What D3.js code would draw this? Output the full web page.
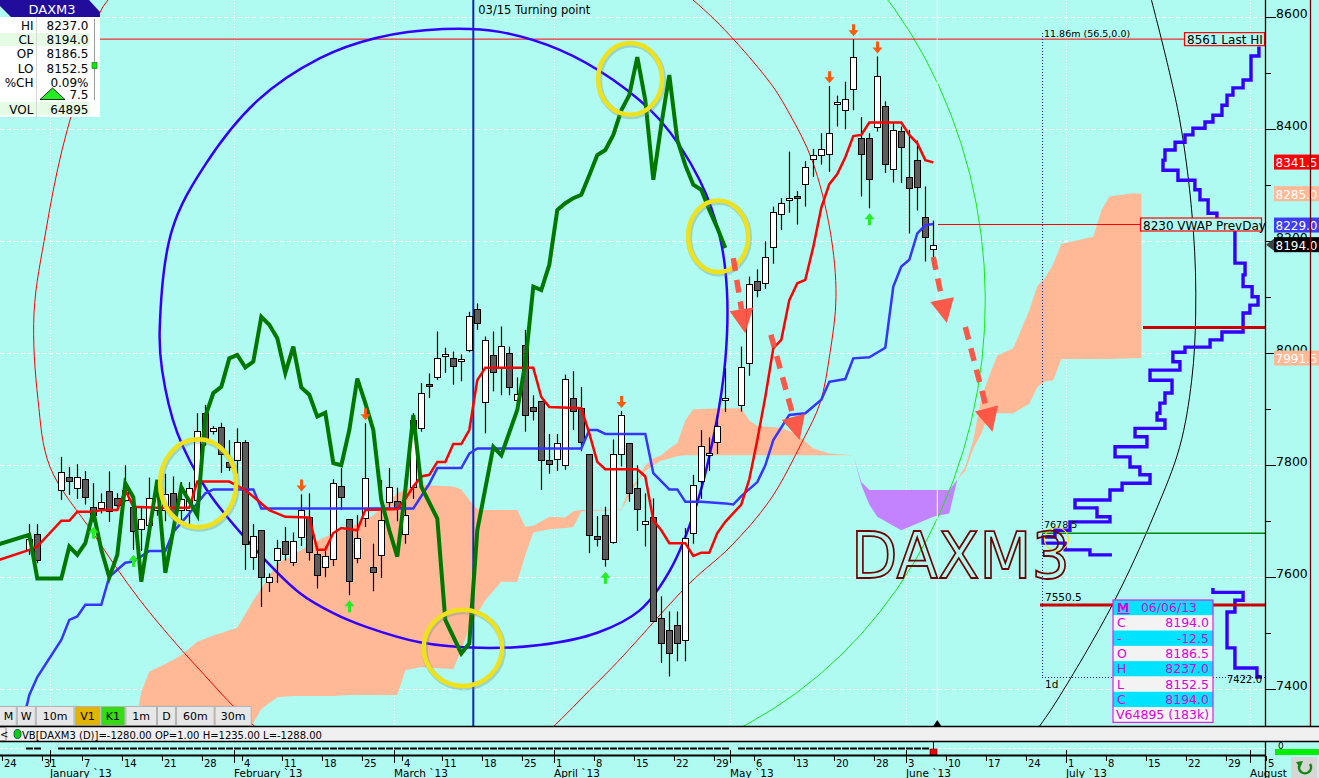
<!DOCTYPE html>
<html><head><meta charset="utf-8"><title>DAXM3</title>
<script src="https://cdn.jsdelivr.net/npm/d3@7/dist/d3.min.js"></script>
<style>html,body{margin:0;padding:0;background:#affbf1;overflow:hidden}svg{display:block}text{font-family:"DejaVu Sans",sans-serif}</style>
</head><body>
<svg id="chart" width="1319" height="778"></svg>
<script>
// ================= DATA =================
// trading-day slot index (0 = Mon 24 Dec 2012), OHLC per day
const candleSlot=[3,4,7,8,9,10,11,12,13,14,15,16,17,18,19,20,21,22,23,24,25,26,27,28,29,30,31,32,33,34,35,36,37,38,39,40,41,42,43,44,45,46,47,48,49,50,51,52,53,54,55,56,57,58,59,60,61,62,63,64,65,66,67,68,69,70,71,72,73,74,75,76,77,78,79,80,81,82,83,84,85,86,87,88,89,90,92,93,94,95,96,97,98,99,100,101,102,103,104,105,106,107,108,109,110,111,112,113,114,115,116];
const candleOpen=[7649,7677,7756,7779,7759,7775,7725,7725,7754,7741,
7738,7726,7686,7693,7720,7720,7751,7720,7720,7738,
7893,7860,7868,7806,7808,7841,7637,7684,7591,7631,
7664,7627,7672,7707,7641,7619,7632,7763,7704,7634,
7707,7618,7639,7734,7736,7677,7762,7866,7946,7957,
7995,7991,7988,8007,8079,7914,7997,7976,8000,7917,
8014,7904,7915,7809,7811,7802,7921,7902,7820,7673,
7712,7664,7820,7839,7759,7695,7707,7527,7505,7515,
7488,7680,7771,7818,7843,7918,7909,7982,8130,8125,
8190,8248,8275,8281,8302,8348,8354,8355,8447,8436,
8471,8384,8384,8404,8442,8329,8397,8315,8346,8243,8186.5];
const candleHigh=[7695,7695,7815,7797,7802,7790,7768,7750,7789,7750,
7800,7744,7727,7778,7770,7785,7780,7770,7770,7893,
7908,7870,7876,7845,7866,7845,7695,7684,7607,7667,
7690,7680,7748,7750,7655,7655,7775,7795,7704,7711,
7875,7660,7774,7795,7760,7774,7893,7947,7964,8039,
8010,8003,7998,8074,8089,8030,8039,8048,8012,7957,
8042,7925,7915,7856,7856,7962,7968,7940,7820,7709,
7726,7846,7897,7839,7800,7750,7741,7566,7539,7539,
7688,7783,7863,7850,7890,7973,8012,8137,8150,8200,
8262,8277,8360,8290,8343,8365,8393,8477,8460,8485,
8561,8422,8393,8530,8450,8413,8405,8399,8380,8298,8237];
const candleLow=[7640,7625,7738,7747,7740,7730,7699,7714,7699,7720,
7735,7649,7647,7670,7710,7700,7688,7700,7690,7730,
7835,7855,7786,7790,7785,7613,7613,7547,7574,7590,
7630,7620,7656,7630,7580,7600,7620,7720,7568,7625,
7690,7575,7599,7720,7700,7660,7740,7860,7920,7952,
7965,7944,7950,8002,8042,7857,7932,7925,7925,7905,
7860,7880,7756,7785,7790,7792,7863,7825,7643,7655,
7619,7660,7798,7735,7683,7655,7521,7447,7423,7450,
7450,7660,7740,7790,7820,7895,7896,7960,8100,8115,
8160,8220,8251,8230,8262,8315,8337,8324,8405,8400,
8434,8280,8259,8396,8322,8305,8304,8214,8255,8164,8152.5];
const candleClose=[7668,7630,7788,7771,7779,7743,7711,7735,7718,7729,
7756,7683,7704,7741,7753,7748,7714,7740,7760,7862,
7848,7866,7820,7797,7841,7659,7674,7600,7600,7653,
7641,7664,7720,7644,7603,7638,7768,7744,7594,7670,
7778,7609,7702,7761,7725,7711,7881,7929,7943,7991,
7998,7976,7990,8067,8054,8024,7967,8013,7940,7927,
7889,7896,7809,7802,7839,7955,7897,7842,7676,7667,
7634,7821,7890,7750,7721,7700,7521,7483,7464,7482,
7670,7765,7834,7822,7871,7921,7976,8123,8114,8172,
8252,8268,8278,8277,8333,8355,8364,8393,8449,8455,
8529,8355,8311,8495,8339,8399,8368,8295,8297,8207,8194];

// Tenkan (red), Kijun (blue) and oscillator overlay (green): [slot, price]
const tenkan=[[-1,7630],[3,7649],[4,7655],[7,7701],[8,7701],[9,7717],[11,7717],[12,7720],[14,7720],[15,7756],[16,7726],[19,7724],[23,7724],[24,7771],[28,7771],[30,7756],[33,7720],[35,7708],[38,7707],[39,7649],[40,7649],[41,7679],[42,7688],[44,7684],[45,7720],[49,7722],[50,7740],[51,7762],[52,7780],[53,7783],[54,7806],[55,7806],[56,7838],[57,7838],[58,7863],[59,7952],[60,7974],[66,7974],[67,7922],[68,7904],[72,7902],[73,7857],[74,7806],[75,7793],[79,7793],[80,7780],[81,7702],[82,7684],[83,7661],[85,7661],[86,7638],[87,7644],[88,7644],[89,7679],[90,7699],[92,7730],[93,7775],[94,7845],[95,7922],[96,8009],[97,8024],[98,8095],[99,8125],[100,8131],[101,8190],[102,8260],[103,8302],[104,8320],[105,8350],[106,8388],[107,8390],[108,8412],[112,8412],[113,8390],[114,8375],[115,8345],[116,8341]];
const kijun=[[2,7330],[3,7390],[4,7422],[7,7488],[8,7524],[9,7530],[10,7551],[12,7551],[13,7601],[15,7626],[16,7628],[18,7647],[20,7647],[21,7681],[23,7714],[25,7750],[26,7757],[31,7757],[32,7723],[51,7723],[53,7767],[54,7795],[57,7795],[58,7821],[59,7830],[72,7830],[73,7863],[74,7863],[75,7856],[80,7856],[81,7786],[83,7757],[84,7757],[85,7735],[87,7735],[90,7732],[91,7730],[92,7745],[94,7770],[95,7800],[96,7845],[98,7890],[100,7893],[102,7917],[103,7949],[105,7954],[106,7991],[108,7993],[110,8010],[111,8119],[112,8155],[113,8167],[114,8214],[115,8229],[116,8231]];
const oscillator=[[-1,7658],[3,7676],[4,7598],[7,7598],[8,7655],[9,7640],[10,7661],[11,7717],[12,7649],[13,7600],[14,7640],[15,7768],[16,7743],[17,7592],[19,7774],[20,7608],[22,7761],[24,7711],[25,7887],[26,7929],[27,7940],[28,7991],[29,7997],[30,7975],[31,7985],[32,8065],[33,8051],[34,8027],[35,7965],[36,8012],[37,7939],[38,7926],[39,7887],[40,7894],[41,7804],[42,7800],[43,7863],[44,7955],[45,7911],[46,7863],[47,7738],[48,7684],[49,7637],[50,7756],[51,7890],[52,7762],[54,7705],[55,7524],[57,7464],[58,7482],[59,7684],[61,7833],[62,7818],[64,7899],[65,7982],[66,8119],[67,8113],[68,8158],[69,8256],[70,8268],[71,8277],[72,8283],[73,8318],[74,8354],[75,8363],[76,8390],[77,8434],[78,8461],[79,8529],[80,8452],[81,8310],[82,8408],[83,8497],[84,8381],[85,8336],[86,8301],[87,8292],[88,8256],[89,8224],[90,8188]];

// Ichimoku cloud: slot, span A, span B
const cloudSlot=[16,17,18,20,22,24,26,29,31,32,34,36,38,41,43,46,49,50,52,56,57,58,59,60,62,64,65,66,68,70,71,72,77,78,79,80,81,82,83,84,85,86,90,92,93,94,97,99,101,103,106,107,108,109,110,112,114,116,118,119,120,121,122,123,124,126,128,129,130,131,132,134,136,137,138,141,142];
const spanA=[7320,7395,7432,7445,7461,7485,7496,7510,7559,7580,7625,7640,7658,7679,7688,7711,7750,7757,7765,7762,7757,7738,7722,7720,7720,7720,7690,7692,7708,7707,7718,7720,7721,7760,7772,7800,7812,7818,7830,7840,7880,7900,7902,7902,7880,7870,7867,7855,7830,7821,7818,7765,7730,7708,7700,7684,7696,7708,7714,7774,7798,7845,7920,7960,7996,8009,8077,8120,8135,8160,8195,8202,8208,8255,8280,8286,8285];
const spanB=[7300,7300,7300,7300,7300,7300,7300,7300,7340,7365,7386,7388,7388,7388,7390,7390,7390,7434,7440,7436,7470,7510,7535,7559,7592,7592,7640,7680,7686,7688,7690,7718,7720,7745,7770,7790,7800,7808,7812,7816,7818,7818,7818,7818,7818,7818,7818,7818,7818,7818,7818,7770,7756,7756,7756,7756,7756,7756,7756,7774,7790,7830,7857,7893,7893,7893,7910,7940,7950,7952,7990,7990,7990,7990,7990,7991,7991.5];

// Volume-at-price profile (price, relative volume); null = gap
const profPrice=[8548,8531,8488,8474,8461,8443,8425,8413,8402,8390,8377,8363,8345,8327,8309,8292,8274,8250,8229,8184,8161,8140,8119,8101,8086,8072,8047,8038,8024,8011,8002,7985,7970,7952,7929,7911,7893,7881,7866,7851,7833,7815,7797,7783,7768,7756,7738,7724,7708,7699,7684,7672,7661,7649,7640,null,7581,7573,7559,7538,7479,7474,7449,7438,7422];
const profVol=[1.4,5,8.6,13.2,15.9,18.2,22.3,25.9,31.4,35,39.5,44.1,45,38.2,30.5,28.2,24.5,20.5,12.3,12.3,7.7,8.6,4.5,1.8,5.5,8.6,8.6,18.2,23.6,35,40.5,37.3,50.9,40.9,44.1,46.4,47.7,44.1,57.7,52.3,66.8,60,55.5,50.9,63.6,69.1,85,75,69.1,87.3,94.1,99.5,89.5,78.2,68.2,null,22.3,8.6,12.3,15.9,15.9,12.3,12.3,2.3,0];

// Key levels
const lastHigh=8561, vwapPrevDay=8230, pocLevel=7678.5, levelUpper=8046, levelLower=7550.5, profileLow=7422.0;
const tagValues=[8341.5,8285.0,8229.0,8194.0,7991.5];
const turningSlot=58.5, currentSlot=116.5;

// signal arrows
const downArrowSlot=[37,45,77,103,106,109];
const upArrowSlot=[11,16,43,75,108];

// Annotation shapes in (slot, price) space
const blueCircle=[[54.7,8579],[61.8,8574],[69.3,8542],[76,8488],[81.8,8417],[86.8,8309],[89.3,8209],[90.2,8113],[90,7988],[88.7,7863],[86.2,7720],[83.1,7613],[79.3,7541],[74,7501],[66.8,7479],[59.3,7474],[51.8,7484],[45.2,7511],[41,7536],[36.8,7572],[31,7654],[25.2,7756],[21.5,7858],[19.6,7970],[19.3,8042],[20.84,8220],[24.96,8336],[31.59,8452],[39.34,8527],[46.34,8563]];
const redCircle=[[3.59,8072],[4.09,7917],[5.59,7797],[10.96,7679],[16.84,7559],[23.96,7440],[32.21,7322],[40.59,7256],[51.84,7229],[63.09,7274],[74.34,7417],[85.59,7590],[90.59,7654],[95.59,7738],[99.71,7845],[101.84,7911],[103.09,8001],[103.84,8101],[103.09,8220],[100.84,8345],[98.09,8426],[95.34,8488],[85.96,8631],[74.34,8738],[55.59,8792],[36.84,8756],[21.84,8684],[12.84,8631],[9.96,8506],[7.09,8363],[5.09,8220]];
const blackArc=[[143.1,8640],[146.8,8417],[148.5,8220],[148.8,8072],[148.3,7952],[146.8,7833],[143.7,7715],[138.5,7554],[131.5,7381],[128.7,7322],[125.6,7256]];
const greenArcCenter=[70,8094], greenArcRadius=[52.5,839];
const yellowRings=[[24.1,7768,4.75,78.6],[78.1,8490,4,64],[89.1,8209,3.75,64],[57.2,7474,4.9,68],[131.4,7668,1.5,21]];
const redArrows=[[91,8170,92.5,8036],[95.7,8033,99.3,7845],[116,8172,117.7,8054],[120,8047,123.4,7860]];

// Axis ticks
const priceTicksMajor=[7400,7600,7800,8000,8200,8400,8600];
const priceTicksMinor=[7500,7700,7900,8100,8300,8500];
const weekTickSlots=[0,5,10,15,20,25,30,35,40,45,50,55,60,65,69,74,79,84,89,94,99,104,109,113,118,123,128,133,138,143,148,153,158];
const weekTickLabels=['24','31','7','14','21','28','4','11','18','25','4','11','18','25','1','8','15','22','29','6','13','20','28','3','10','17','24','1','8','15','22','29','5'];
const monthSlots=[6,29,49,69,91,113,133,156];
const monthLabels=['January `13','February `13','March `13','April `13','May `13','June `13','July `13','August `13'];

// Info panels
const infoLabels=['HI','CL','OP','LO','%CH','','VOL'];
const infoValues=['8237.0','8194.0','8186.5','8152.5','0.09%','7.5','64895'];
const boxLabels=['M','C','-','O','H','L','C',''];
const boxValues=['06/06/13','8194.0','-12.5','8186.5','8237.0','8152.5','8194.0','V64895 (183k)'];
const toolbarButtons=['M','W','10m','V1','K1','1m','D','60m','30m'];
const statusText='VB[DAXM3 (D)]=-1280.00 OP=1.00 H=1235.00 L=-1288.00';

// ================= RENDER =================
const BG='#affbf1', SALMON='#ffb996';
const W=1319,H=778, PX1=1265, PY1=726;
const x=d3.scaleLinear().domain([0,160]).range([5.3,1285.3]);
const y=d3.scaleLinear().domain([7400,8600]).range([689.3,17.3]);
const vx=d3.scaleLinear().domain([0,100]).range([1262,1042]);
const svg=d3.select('#chart');
svg.append('rect').attr('width',W).attr('height',H).attr('fill',BG);
const defs=svg.append('defs');
defs.append('clipPath').attr('id','plot').append('rect').attr('x',0).attr('y',0).attr('width',PX1).attr('height',PY1);
defs.append('filter').attr('id','soft').append('feGaussianBlur').attr('stdDeviation',0.6);
const g=svg.append('g').attr('clip-path','url(#plot)');
const rx=s=>Math.round(x(s));

// grid
g.selectAll('.hg').data(priceTicksMajor).join('line').attr('x1',0).attr('x2',PX1)
 .attr('y1',d=>Math.round(y(d))+0.5).attr('y2',d=>Math.round(y(d))+0.5)
 .attr('stroke','#fff').attr('stroke-dasharray','4,3');
g.selectAll('.vg').data(monthSlots).join('line')
 .attr('x1',d=>rx(d)-2.5).attr('x2',d=>rx(d)-2.5).attr('y1',0).attr('y2',PY1)
 .attr('stroke','#fff').attr('stroke-dasharray','1,2');

// cloud
const cloudIdx=d3.range(cloudSlot.length);
const segs=[]; let cur=[], sign=0;
cloudIdx.forEach(i=>{
  const s=Math.sign(spanA[i]-spanB[i]);
  cur.push(i);
  if(s===0 && cur.length>1){segs.push({sign,idx:cur}); cur=[i]; sign=0;}
  else if(s!==0) sign=s;
});
if(cur.length>1) segs.push({sign,idx:cur});
const area=d3.area().x(i=>x(cloudSlot[i])).y0(i=>y(spanB[i])).y1(i=>y(spanA[i]));
segs.forEach(sg=>g.append('path').attr('d',area(sg.idx)).attr('fill',sg.sign<0?'#c383ff':SALMON));

// thin circles / arcs
g.append('path').attr('d',d3.line().x(d=>x(d[0])).y(d=>y(d[1])).curve(d3.curveCatmullRomClosed)(redCircle)).attr('fill','none').attr('stroke','#ff0000').attr('stroke-width',1);
g.append('path').attr('d',d3.line().x(d=>x(d[0])).y(d=>y(d[1])).curve(d3.curveCatmullRom)(blackArc)).attr('fill','none').attr('stroke','#000').attr('stroke-width',1);
(function(){
  const cx=x(greenArcCenter[0]), cy=y(greenArcCenter[1]);
  const ax=x(greenArcCenter[0]+greenArcRadius[0])-cx, ay=y(greenArcCenter[1]-greenArcRadius[1])-cy;
  const t1=-50*Math.PI/180, t2=72*Math.PI/180;
  g.append('path').attr('d',`M${cx+ax*Math.cos(t1)},${cy+ay*Math.sin(t1)} A${ax},${ay} 0 0 1 ${cx+ax*Math.cos(t2)},${cy+ay*Math.sin(t2)}`)
   .attr('fill','none').attr('stroke','#19e619').attr('stroke-width',1);
})();

// levels
g.append('line').attr('x1',0).attr('x2',1184).attr('y1',y(lastHigh)).attr('y2',y(lastHigh)).attr('stroke','#ff0000').attr('stroke-width',1);
g.append('line').attr('x1',x(currentSlot)).attr('x2',1140).attr('y1',y(vwapPrevDay)).attr('y2',y(vwapPrevDay)).attr('stroke','#ff0000').attr('stroke-width',1);

// volume profile frame
g.append('line').attr('x1',1042.5).attr('x2',1042.5).attr('y1',33).attr('y2',y(profileLow)).attr('stroke','#2020c0').attr('stroke-dasharray','1,2');
g.append('line').attr('x1',1042).attr('x2',PX1).attr('y1',Math.round(y(profileLow))+0.5).attr('y2',Math.round(y(profileLow))+0.5).attr('stroke','#2020c0').attr('stroke-dasharray','1,2');
g.append('line').attr('x1',1042).attr('x2',PX1).attr('y1',y(pocLevel)).attr('y2',y(pocLevel)).attr('stroke','#008800').attr('stroke-width',1.5);

// profile
(function(){
  const p=d3.path(); let started=false, lx=0;
  profPrice.forEach((pr,i)=>{
    if(pr===null){started=false;return;}
    const X=vx(profVol[i]), Y=y(pr);
    if(!started){p.moveTo(X,Y);started=true;}
    else{p.lineTo(lx,Y);p.lineTo(X,Y);}
    lx=X;
  });
  g.append('path').attr('d',p.toString()).attr('fill','none').attr('stroke','#3300ff').attr('stroke-width',3.4);
})();
g.append('line').attr('x1',1143).attr('x2',PX1).attr('y1',y(levelUpper)).attr('y2',y(levelUpper)).attr('stroke','#cc0000').attr('stroke-width',3);
g.append('line').attr('x1',1040).attr('x2',PX1).attr('y1',y(levelLower)).attr('y2',y(levelLower)).attr('stroke','#cc0000').attr('stroke-width',3);

// verticals
g.append('line').attr('x1',x(currentSlot)).attr('x2',x(currentSlot)).attr('y1',0).attr('y2',PY1).attr('stroke','#fff').attr('stroke-width',1);
g.append('line').attr('x1',x(turningSlot)).attr('x2',x(turningSlot)).attr('y1',0).attr('y2',PY1).attr('stroke','#1028a8').attr('stroke-width',2);
svg.append('text').attr('x',x(turningSlot)+5).attr('y',14).attr('font-size',11.5).attr('fill','#000').text('03/15 Turning point');

// blue circle
g.append('path').attr('d',d3.line().x(d=>x(d[0])).y(d=>y(d[1])).curve(d3.curveCatmullRomClosed)(blueCircle)).attr('fill','none').attr('stroke','#3300ff').attr('stroke-width',2.5);

// candles
const candles=candleSlot.map((s,i)=>({s,o:candleOpen[i],h:candleHigh[i],l:candleLow[i],c:candleClose[i]}));
const cg=g.append('g');
cg.selectAll('line').data(candles).join('line')
 .attr('x1',d=>rx(d.s)+0.5).attr('x2',d=>rx(d.s)+0.5).attr('y1',d=>y(d.h)).attr('y2',d=>y(d.l))
 .attr('stroke','#000').attr('stroke-width',1.2);
cg.selectAll('rect').data(candles).join('rect')
 .attr('x',d=>rx(d.s)-2.5).attr('width',6)
 .attr('y',d=>Math.round(y(Math.max(d.o,d.c)))+0.5)
 .attr('height',d=>Math.max(2,Math.round(Math.abs(y(d.o)-y(d.c)))))
 .attr('fill',d=>d.c>=d.o?'#ffffff':'#5c5c5c').attr('stroke','#000').attr('stroke-width',1);

// Tenkan / Kijun
g.append('path').attr('d',d3.line().x(d=>x(d[0])).y(d=>y(d[1]))(kijun)).attr('fill','none').attr('stroke','#3535ff').attr('stroke-width',2.5);
g.append('path').attr('d',d3.line().x(d=>x(d[0])).y(d=>y(d[1]))(tenkan)).attr('fill','none').attr('stroke','#ff0000').attr('stroke-width',2.5);
// oscillator
g.append('path').attr('d',d3.line().x(d=>x(d[0])).y(d=>y(d[1]))(oscillator)).attr('fill','none').attr('stroke','#007800').attr('stroke-width',4).attr('stroke-linejoin','miter');

// signal arrows
const hiOf=s=>candleHigh[candleSlot.indexOf(s)], loOf=s=>candleLow[candleSlot.indexOf(s)];
downArrowSlot.forEach(s=>{
  const cx=rx(s)+0.5, b=y(hiOf(s))-3;
  g.append('path').attr('d',`M${cx-1.5},${b-12}h3v6h3.5l-5,6l-5,-6h3.5z`).attr('fill','#ff5a0a');
});
upArrowSlot.forEach(s=>{
  const cx=rx(s)+0.5, t=y(loOf(s))+5;
  g.append('path').attr('d',`M${cx},${t}l5,6h-3.5v6h-3v-6h-3.5z`).attr('fill','#22ee22');
});

// yellow rings
yellowRings.forEach((r,i)=>{
  const cx=x(r[0]), cy=y(r[1]), ex=x(r[0]+r[2])-cx, ey=y(r[1]-r[3])-cy;
  const sw=i<4?4.5:1.2;
  if(i<4) g.append('ellipse').attr('cx',cx+1).attr('cy',cy+1.5).attr('rx',ex).attr('ry',ey).attr('fill','none').attr('stroke','#6a8f8a').attr('stroke-opacity',0.35).attr('stroke-width',sw+1.5).attr('filter','url(#soft)');
  g.append('ellipse').attr('cx',cx).attr('cy',cy).attr('rx',ex).attr('ry',ey).attr('fill','none').attr('stroke','#efe21c').attr('stroke-width',sw);
});

// red dashed arrows
redArrows.forEach(a=>{
  const x0=x(a[0]),y0=y(a[1]),x1=x(a[2]),y1=y(a[3]);
  const L=Math.hypot(x1-x0,y1-y0), ux=(x1-x0)/L, uy=(y1-y0)/L, hl=24, hw=12;
  const bx=x1-ux*hl, by=y1-uy*hl;
  g.append('line').attr('x1',x0).attr('y1',y0).attr('x2',bx).attr('y2',by).attr('stroke','#ff5040').attr('stroke-width',5.5).attr('stroke-dasharray','13,9').attr('opacity',0.95);
  g.append('path').attr('d',`M${x1},${y1}L${bx-uy*hw},${by+ux*hw}L${bx+uy*hw},${by-ux*hw}Z`).attr('fill','#ff5040').attr('opacity',0.95);
});

// watermark
svg.append('text').attr('x',851).attr('y',578).attr('font-family','Liberation Sans, Arial, sans-serif').attr('font-size',64)
 .attr('textLength',219).attr('lengthAdjust','spacingAndGlyphs')
 .attr('fill','none').attr('stroke','#6e0000').attr('stroke-width',1.8).text('DAXM3');

// profile labels
svg.append('text').attr('x',1044).attr('y',37).attr('font-size',9.5).text('11.86m (56.5,0.0)');
svg.append('text').attr('x',1044).attr('y',y(pocLevel)-5).attr('font-size',9.5).text(pocLevel.toFixed(1));
svg.append('text').attr('x',1045).attr('y',y(levelLower)-4).attr('font-size',10.5).text(levelLower.toFixed(1));
svg.append('text').attr('x',1262).attr('y',y(profileLow)+6).attr('font-size',10).attr('text-anchor','end').text(profileLow.toFixed(1));
svg.append('text').attr('x',1045).attr('y',688).attr('font-size',10.5).text('1d');

// Last HI and VWAP boxes
function labelBox(x0,x1,cy,txt){
  svg.append('rect').attr('x',x0+0.5).attr('y',cy-6.5).attr('width',x1-x0).attr('height',13).attr('fill',BG).attr('stroke','#ff0000').attr('stroke-width',1.2);
  svg.append('text').attr('x',x0+3).attr('y',cy+5).attr('font-size',12).attr('fill','#000').text(txt);
}
labelBox(1184,1264,y(lastHigh),lastHigh+' Last HI');
labelBox(1140,1261,y(vwapPrevDay),vwapPrevDay+' VWAP PrevDay');

// data box bottom right
(function(){
  const bx=1113,by=600,rh=15.3,bw=100;
  boxValues.forEach((v,i)=>{
    svg.append('rect').attr('x',bx).attr('y',by+i*rh).attr('width',bw).attr('height',rh).attr('fill',i%2===0?'#00e3ff':'#f3f3f3');
    if(boxLabels[i]) svg.append('text').attr('x',bx+4).attr('y',by+i*rh+12).attr('font-size',12.5).attr('fill','#e000e0')
      .attr('font-weight',i===0?'bold':'normal').attr('text-decoration',i===0?'underline':'none').text(boxLabels[i]);
    svg.append('text').attr('x',i===0?bx+56:(i===7?bx+3:bx+bw-4)).attr('y',by+i*rh+12).attr('font-size',12.5).attr('fill','#e000e0')
      .attr('text-anchor',i===0?'middle':(i===7?'start':'end')).text(v);
  });
  svg.append('rect').attr('x',bx).attr('y',by).attr('width',bw).attr('height',rh*8).attr('fill','none').attr('stroke','#e020e0').attr('stroke-width',1.2);
})();

// info box top-left
(function(){
  svg.append('rect').attr('x',0).attr('y',17).attr('width',100).attr('height',100).attr('fill','#fff');
  svg.append('rect').attr('x',0).attr('y',33).attr('width',90).attr('height',13).attr('fill','#e6fbe4');
  svg.append('rect').attr('x',0).attr('y',102).attr('width',90).attr('height',13).attr('fill','#e6fbe4');
  svg.append('path').attr('d','M0,0H89L100,12V17H11L0,6Z').attr('fill','#210c9c');
  svg.append('text').attr('x',52).attr('y',13.5).attr('font-size',13).attr('fill','#fff').attr('text-anchor','middle').text('DAXM3');
  svg.append('line').attr('x1',36.5).attr('x2',36.5).attr('y1',17).attr('y2',117).attr('stroke','#d8d8d8');
  svg.append('line').attr('x1',94.5).attr('x2',94.5).attr('y1',19).attr('y2',100).attr('stroke','#9a9a9a');
  svg.append('rect').attr('x',92).attr('y',62.5).attr('width',5).attr('height',6).attr('fill','#00ee00').attr('stroke','#227722').attr('stroke-width',0.7);
  const base=[30,44.2,58.4,72.6,86.8,99.3,114.3];
  infoValues.forEach((v,i)=>{
    if(infoLabels[i]) svg.append('text').attr('x',33.5).attr('y',base[i]).attr('font-size',12).attr('text-anchor','end').text(infoLabels[i]);
    svg.append('text').attr('x',88.5).attr('y',base[i]).attr('font-size',12).attr('text-anchor','end').text(v);
  });
  svg.append('path').attr('d','M40,99.5L65,99.5L52.5,88Z').attr('fill','#22ee22').attr('stroke','#000').attr('stroke-width',0.8);
})();

// right axis
const ax=svg.append('g');
ax.append('line').attr('x1',PX1+0.5).attr('x2',PX1+0.5).attr('y1',0).attr('y2',778).attr('stroke','#000').attr('stroke-width',1.3);
ax.selectAll('.mj').data(priceTicksMajor).join('line').attr('x1',PX1).attr('x2',PX1+11)
  .attr('y1',d=>Math.round(y(d))+0.5).attr('y2',d=>Math.round(y(d))+0.5).attr('stroke','#000');
ax.selectAll('.mn').data(priceTicksMinor).join('line').attr('x1',PX1).attr('x2',PX1+6)
  .attr('y1',d=>Math.round(y(d))+0.5).attr('y2',d=>Math.round(y(d))+0.5).attr('stroke','#000');
ax.selectAll('.tl').data(priceTicksMajor).join('text').attr('x',PX1+11).attr('y',d=>y(d)+1).attr('font-size',12.5).text(d=>d);
const tagBg=['#ff0000',SALMON,'#3c3cff','#000000',SALMON];
tagValues.forEach((v,i)=>{
  const cy=y(v);
  if(i===3) ax.append('path').attr('d',`M${PX1+1},${cy}L${PX1+9},${cy-6}L${PX1+9},${cy+6}Z`).attr('fill','#404040');
  ax.append('rect').attr('x',1274).attr('y',cy-7.5).attr('width',45).attr('height',15).attr('fill',tagBg[i]);
  ax.append('text').attr('x',1275.5).attr('y',cy+5).attr('font-size',12).attr('fill','#fff').text(v.toFixed(1));
});
ax.append('line').attr('x1',1310.5).attr('x2',1310.5).attr('y1',0).attr('y2',PY1).attr('stroke','#7a0000').attr('stroke-width',1.3);

// toolbar
(function(){
  const edges=[-12,16.8,35.8,74.5,100.5,125.4,157,176,214.6,251.7];
  const tb=svg.append('g');
  toolbarButtons.forEach((t,i)=>{
    const x0=edges[i], x1=edges[i+1];
    const bg=t==='V1'?'#e2b400':(t==='K1'?'#33dd11':'#e6e6e6');
    tb.append('rect').attr('x',x0+0.5).attr('y',706.5).attr('width',x1-x0-1).attr('height',19).attr('fill',bg).attr('stroke','#b4b4b4');
    tb.append('text').attr('x',(x0+x1)/2+(i===0?6:0)).attr('y',720).attr('font-size',11).attr('text-anchor','middle').text(t);
  });
})();
// current bar marker
svg.append('path').attr('d',`M${x(currentSlot)-4},${PY1}L${x(currentSlot)},${PY1-6}L${x(currentSlot)+4},${PY1}Z`).attr('fill','#000');

// status bar
svg.append('rect').attr('x',0).attr('y',726).attr('width',W).attr('height',15).attr('fill','#f0f0f0');
svg.append('line').attr('x1',0).attr('x2',W).attr('y1',726.5).attr('y2',726.5).attr('stroke','#000').attr('stroke-width',1.3);
svg.append('line').attr('x1',0).attr('x2',W).attr('y1',741.5).attr('y2',741.5).attr('stroke','#000').attr('stroke-width',1.3);
svg.append('rect').attr('x',-1).attr('y',727.5).attr('width',7).attr('height',13).attr('fill','#f0f0f0').attr('stroke','#888');
svg.append('text').attr('x',0).attr('y',738).attr('font-size',10).text('<');
svg.append('ellipse').attr('cx',17.5).attr('cy',734).attr('rx',3.5).attr('ry',4.5).attr('fill','#11cc11').attr('stroke','#064');
svg.append('text').attr('x',22).attr('y',738.5).attr('font-size',10).text(statusText);

// lower indicator panel
const lp=svg.append('g');
lp.append('line').attr('x1',0).attr('x2',23).attr('y1',748.5).attr('y2',748.5).attr('stroke','#fff').attr('stroke-dasharray','3,2');
lp.selectAll('line.d').data(candleSlot.filter(s=>s<116)).join('line').attr('x1',d=>rx(d)-3).attr('x2',d=>rx(d)+4).attr('y1',748.5).attr('y2',748.5).attr('stroke','#000').attr('stroke-width',2);
lp.append('line').attr('x1',x(currentSlot)+1).attr('x2',PX1).attr('y1',748.5).attr('y2',748.5).attr('stroke','#fff').attr('stroke-dasharray','3,2');
lp.append('line').attr('x1',rx(116)+0.5).attr('x2',rx(116)+0.5).attr('y1',742).attr('y2',749).attr('stroke','#000');
lp.append('rect').attr('x',rx(116)-3).attr('y',749).attr('width',7).attr('height',6).attr('fill','#ee0000').attr('stroke','#600').attr('stroke-width',0.6);
lp.append('text').attr('x',1278).attr('y',748.5).attr('font-size',9).text('0');
lp.append('rect').attr('x',1275).attr('y',749).attr('width',44).attr('height',6).attr('fill','#00ee00');

// time axis
const tx=svg.append('g');
tx.append('line').attr('x1',0).attr('x2',PX1).attr('y1',755.5).attr('y2',755.5).attr('stroke','#000').attr('stroke-width',2);
tx.selectAll('.wt').data(weekTickSlots).join('line').attr('x1',d=>rx(d)-2.5).attr('x2',d=>rx(d)-2.5).attr('y1',756).attr('y2',761).attr('stroke','#000');
tx.selectAll('.wl').data(weekTickSlots).join('text').attr('x',d=>rx(d)-1).attr('y',766.5).attr('font-size',10).text((d,i)=>weekTickLabels[i]);
tx.selectAll('.mt').data(monthSlots).join('line').attr('x1',d=>rx(d)-2.5).attr('x2',d=>rx(d)-2.5).attr('y1',750).attr('y2',763).attr('stroke','#000');
tx.selectAll('.ml').data(monthSlots).join('text').attr('x',d=>rx(d)-3).attr('y',776.5).attr('font-size',10.5).text((d,i)=>monthLabels[i]);
// refresh button
svg.append('rect').attr('x',1291).attr('y',757).attr('width',26).attr('height',21).attr('fill','#d6d6d6');
svg.append('path').attr('d','M1310,764 A6,6 0 1 1 1300,764').attr('fill','none').attr('stroke','#118811').attr('stroke-width',2.5);
svg.append('path').attr('d','M1296,762L1303,761L1300,768Z').attr('fill','#118811');
</script>
</body></html>
